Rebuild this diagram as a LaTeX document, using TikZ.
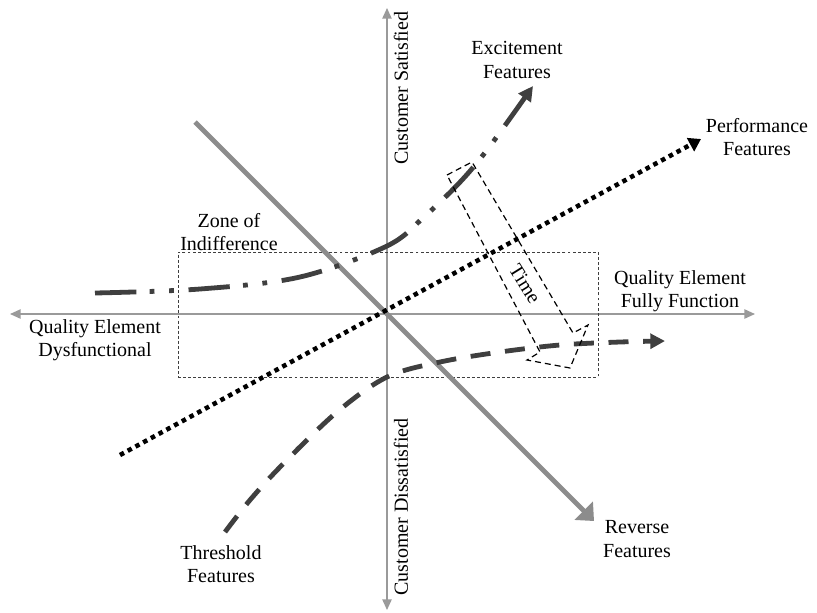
\documentclass[tikz,border=0pt]{standalone}
\usepackage{fontspec}
\setmainfont{Liberation Serif}
\usetikzlibrary{arrows.meta}
\definecolor{axisgray}{HTML}{9A9A9A}
\definecolor{revgray}{HTML}{8C8C8C}
\definecolor{darkline}{HTML}{3F3F3F}
\begin{document}
\begin{tikzpicture}[x=0.75pt,y=-0.75pt,
  lbl/.style={align=center,inner sep=0pt,font=\fontsize{15}{17.5}\selectfont},
  axis/.style={draw=axisgray,line width=1.1pt,{Triangle[length=8pt,width=7pt]}-{Triangle[length=8pt,width=7pt]}},
  zonebox/.style={draw=darkline,line width=0.6pt,dash pattern=on 2.2pt off 1.6pt},
  timebox/.style={draw=black,line width=0.9pt,dash pattern=on 4.5pt off 3pt},
  revline/.style={draw=revgray,line width=3.6pt,-{Triangle[length=11pt,width=19pt]}},
  perfline/.style={draw=black,line width=3.4pt,dash pattern=on 3.4pt off 3.2pt,-{Triangle[length=9pt,width=11pt]}},
  exline/.style={draw=darkline,line width=3.6pt,dash pattern=on 31pt off 10pt on 3.6pt off 11pt on 3.6pt off 11pt,-{Triangle[length=11pt,width=11pt]}},
  thline/.style={draw=darkline,line width=3.6pt,dash pattern=on 15pt off 11pt,-{Triangle[length=11pt,width=11pt]}}]
\useasboundingbox (0,0) rectangle (817,612);
\fill[white] (0,0) rectangle (817,612);

% axes
\coordinate (xl) at (10,314);
\coordinate (xr) at (755,314);
\coordinate (yt) at (387,8);
\coordinate (yb) at (387,610);
\draw[axis] (xl) -- (xr);
\draw[axis] (yt) -- (yb);

% zone of indifference
\node[zonebox,minimum width=420*0.75pt,minimum height=125*0.75pt,inner sep=0pt] (zone) at (388,314.5) {};
\node[lbl] (zonelbl) at (229,232) {Zone of\\Indifference};

% reverse features
\coordinate (rs) at (195,122);
\coordinate (re) at (594,521);
\draw[revline] (rs) -- (re);
\node[lbl] (revlbl) at (637,539) {Reverse\\Features};

% performance features
\coordinate (ps) at (120,455);
\coordinate (pe) at (701,139);
\draw[perfline] (ps) -- (pe);
\node[lbl] (perflbl) at (757,137) {Performance\\Features};

% excitement features
\draw[exline] plot[smooth,tension=0.55] coordinates {(95,293) (200,289) (300,277) (387,246) (425,216) (462,180) (490,146) (533,86)};
\node[lbl] (exlbl) at (517,60) {Excitement\\Features};

% threshold features
\draw[thline] plot[smooth,tension=0.55] coordinates {(225,532) (250,500) (283,464) (337,412) (387,377) (440,362) (500,352) (560,345) (620,342) (665,341)};
\node[lbl] (thlbl) at (221,564) {Threshold\\Features};

% time box
\draw[timebox] (447,175) -- (472,162) -- (573,333) -- (588,325) -- (570,368) -- (527,360) -- (540,352) -- cycle;
\node[lbl,rotate=-58] (timelbl) at (525,284) {Time};

% axis labels
\node[lbl] (qff) at (680,291) {Quality Element\\Fully Function};
\node[lbl] (qdf) at (95,340) {Quality Element\\Dysfunctional};
\node[lbl,rotate=90] (cs) at (401,88) {Customer Satisfied};
\node[lbl,rotate=90] (cd) at (401,507) {Customer Dissatisfied};
\end{tikzpicture}
\end{document}
